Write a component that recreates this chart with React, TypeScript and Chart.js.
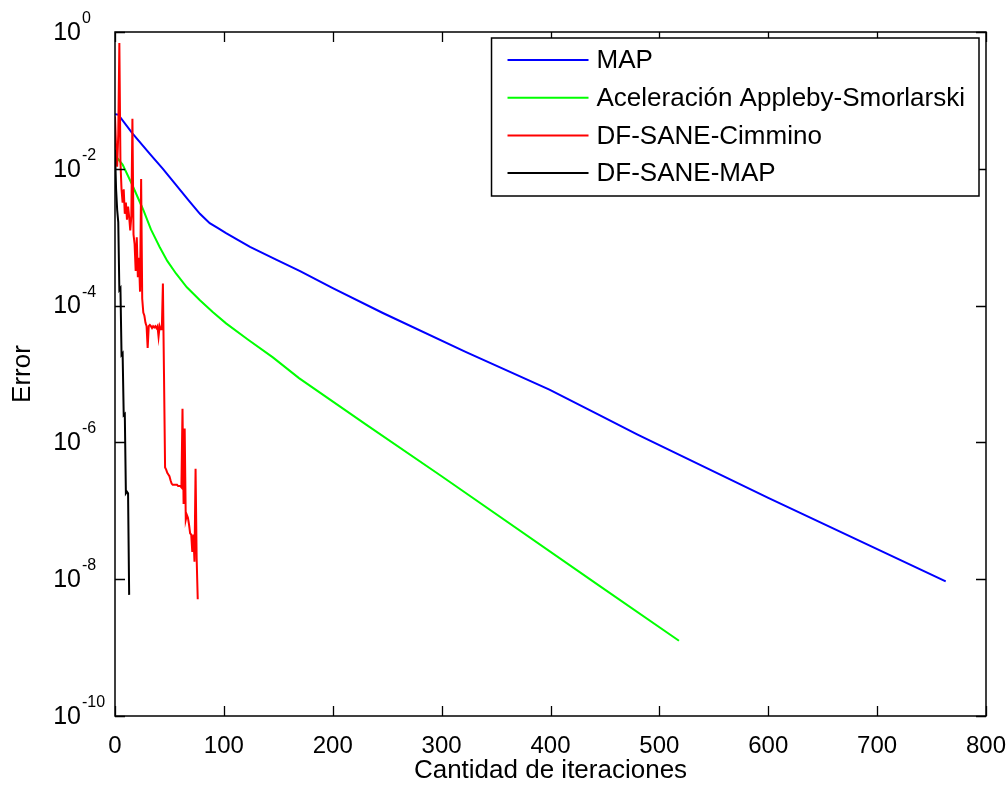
import React, { useEffect, useRef } from 'react';
import { Chart, registerables } from 'chart.js';

Chart.register(...registerables);

// ---- Data ----
const seriesLabels = ['MAP', 'Aceleración Appleby-Smorlarski', 'DF-SANE-Cimmino', 'DF-SANE-MAP'];
const seriesColors = ['#0000ff', '#00ff00', '#ff0000', '#000000'];

// MAP (blue)
const mapIter = [0, 3, 16, 32, 44, 56, 68, 78, 87, 95, 102, 112, 124, 148, 170, 200, 246, 322, 399, 445, 480, 600, 763];
const mapError = [6.3e-2, 6.2e-2, 3.3e-2, 1.65e-2, 1.0e-2, 5.8e-3, 3.4e-3, 2.2e-3, 1.6e-3, 1.35e-3, 1.15e-3, 9.3e-4, 7.2e-4, 4.7e-4, 3.2e-4, 1.8e-4, 7.8e-5, 2.1e-5, 5.9e-6, 2.5e-6, 1.3e-6, 1.55e-7, 9.3e-9];

// Aceleración Appleby-Smorlarski (green)
const accIter = [1, 7, 16, 26, 33, 41, 48, 56, 66, 78, 90, 102, 122, 145, 169, 231, 300, 445, 518];
const accError = [1.5e-2, 1.15e-2, 5.75e-3, 2.5e-3, 1.3e-3, 7.2e-4, 4.5e-4, 2.95e-4, 1.85e-4, 1.2e-4, 8.0e-5, 5.5e-5, 3.2e-5, 1.75e-5, 8.7e-6, 1.8e-6, 3.2e-7, 8.0e-9, 1.26e-9];

// DF-SANE-Cimmino (red), one value per iteration 0..76
const cimError = [
  5.8e-2, 2.0e-2, 1.07e-2, 3.2e-2, 6.9e-1, 1.26e-2, 5.0e-3, 3.2e-3, 5.0e-3, 2.2e-3,
  3.2e-3, 1.8e-3, 2.8e-3, 2.0e-3, 1.26e-3, 2.0e-3, 5.4e-2, 1.1e-3, 7.9e-4, 3.2e-4,
  1.0e-3, 2.6e-4, 5.0e-4, 1.6e-4, 7.1e-3, 1.26e-4, 7.9e-5, 7.1e-5, 5.6e-5, 5.0e-5,
  2.4e-5, 5.0e-5, 5.2e-5, 5.0e-5, 4.7e-5, 5.0e-5, 4.8e-5, 5.0e-5, 4.7e-5, 5.0e-5,
  3.5e-5, 5.0e-5, 4.5e-5, 4.5e-5, 2.1e-4, 1.0e-5, 4.3e-7, 4.0e-7, 3.6e-7, 3.4e-7,
  3.2e-7, 2.8e-7, 2.5e-7, 2.4e-7, 2.4e-7, 2.4e-7, 2.4e-7, 2.4e-7, 2.3e-7, 2.3e-7,
  2.3e-7, 2.2e-7, 3.1e-6, 1.26e-7, 1.6e-6, 7.4e-8, 8.7e-8, 7.9e-8, 6.3e-8, 4.7e-8,
  4.5e-8, 2.5e-8, 4.5e-8, 1.8e-8, 4.1e-7, 2.0e-8, 5.1e-9,
];

// DF-SANE-MAP (black), one value per iteration 0..13
const dfmapError = [
  1.9e-2, 5.0e-3, 2.5e-3, 1.66e-3, 1.7e-4, 1.8e-4, 1.9e-5, 2.0e-5, 2.5e-6, 2.6e-6,
  1.8e-7, 1.9e-7, 1.8e-7, 5.9e-9,
];

// Axis ticks
const xTicks = [0, 100, 200, 300, 400, 500, 600, 700, 800];
const yTicks = [1, 1e-2, 1e-4, 1e-6, 1e-8, 1e-10];
const yTickExponents = ['0', '-2', '-4', '-6', '-8', '-10'];

const FONT = "'Liberation Sans', Arial, Helvetica, sans-serif";

const matlabPlugin = {
  id: 'matlabDecor',
  afterDraw(chart: any) {
    const { ctx, chartArea: a, scales } = chart;
    const xs = scales.x;
    const ys = scales.y;
    ctx.save();
    // frame
    ctx.strokeStyle = '#000';
    ctx.lineWidth = 1.5;
    ctx.strokeRect(a.left, a.top, a.right - a.left, a.bottom - a.top);
    // inner tick marks
    ctx.lineWidth = 1.3;
    ctx.beginPath();
    xTicks.forEach((v) => {
      const px = Math.round(xs.getPixelForValue(v)) + 0.5;
      ctx.moveTo(px, a.bottom);
      ctx.lineTo(px, a.bottom - 10);
      ctx.moveTo(px, a.top);
      ctx.lineTo(px, a.top + 10);
    });
    yTicks.forEach((v) => {
      const py = Math.round(ys.getPixelForValue(v)) + 0.5;
      ctx.moveTo(a.left, py);
      ctx.lineTo(a.left + 10, py);
      ctx.moveTo(a.right, py);
      ctx.lineTo(a.right - 10, py);
    });
    ctx.stroke();

    // y tick labels with superscript exponents
    ctx.fillStyle = '#000';
    yTicks.forEach((v, i) => {
      const py = ys.getPixelForValue(v);
      ctx.font = `25px ${FONT}`;
      ctx.textAlign = 'right';
      ctx.textBaseline = 'middle';
      ctx.fillText('10', a.left - 34, py + 1);
      ctx.font = `16px ${FONT}`;
      ctx.textAlign = 'left';
      ctx.textBaseline = 'alphabetic';
      ctx.fillText(yTickExponents[i], a.left - 33, py - 9);
    });

    // legend box
    const datasets = chart.data.datasets;
    ctx.font = `26px ${FONT}`;
    let maxW = 0;
    datasets.forEach((d: any) => {
      maxW = Math.max(maxW, ctx.measureText(d.label).width);
    });
    const boxW = 105 + maxW + 14;
    const boxH = 158;
    const bx = a.right - 7 - boxW;
    const by = a.top + 6;
    ctx.fillStyle = '#fff';
    ctx.fillRect(bx, by, boxW, boxH);
    ctx.strokeStyle = '#000';
    ctx.lineWidth = 1.5;
    ctx.strokeRect(bx, by, boxW, boxH);
    datasets.forEach((d: any, i: number) => {
      const ry = by + 22 + i * 37.7;
      ctx.strokeStyle = d.borderColor;
      ctx.lineWidth = 2;
      ctx.beginPath();
      ctx.moveTo(bx + 16, ry);
      ctx.lineTo(bx + 97, ry);
      ctx.stroke();
      ctx.fillStyle = '#000';
      ctx.textAlign = 'left';
      ctx.textBaseline = 'middle';
      ctx.fillText(d.label, bx + 105, ry + 1);
    });
    ctx.restore();
  },
};

export default function App() {
  const canvasRef = useRef<HTMLCanvasElement | null>(null);

  useEffect(() => {
    const canvas = canvasRef.current;
    if (!canvas) return;
    const toPoints = (xsArr: number[], ysArr: number[]) => xsArr.map((x, i) => ({ x, y: ysArr[i] }));
    const indexPoints = (ysArr: number[]) => ysArr.map((y, i) => ({ x: i, y }));

    const chart = new Chart(canvas, {
      type: 'line',
      data: {
        datasets: [
          { label: seriesLabels[0], data: toPoints(mapIter, mapError), borderColor: seriesColors[0], order: 4 },
          { label: seriesLabels[1], data: toPoints(accIter, accError), borderColor: seriesColors[1], order: 3 },
          { label: seriesLabels[2], data: indexPoints(cimError), borderColor: seriesColors[2], order: 2 },
          { label: seriesLabels[3], data: indexPoints(dfmapError), borderColor: seriesColors[3], order: 1 },
        ].map((d) => ({ ...d, borderWidth: 2, pointRadius: 0, tension: 0, fill: false })),
      },
      options: {
        responsive: false,
        animation: false,
        devicePixelRatio: 1,
        layout: { padding: { left: 0, right: 22, top: 32, bottom: 0 } },
        plugins: {
          legend: { display: false },
          tooltip: { enabled: false },
        },
        scales: {
          x: {
            type: 'linear',
            min: 0,
            max: 800,
            afterBuildTicks: (scale: any) => {
              scale.ticks = xTicks.map((v) => ({ value: v }));
            },
            afterFit: (scale: any) => {
              scale.height = 73;
              scale.paddingLeft = 0;
              scale.paddingRight = 0;
            },
            grid: { display: false },
            border: { display: false },
            ticks: {
              color: '#000',
              padding: 8,
              maxRotation: 0,
              autoSkip: false,
              font: { size: 24, family: FONT },
            },
            title: {
              display: true,
              text: 'Cantidad de iteraciones',
              color: '#000',
              font: { size: 26, family: FONT },
              padding: { top: 0, bottom: 3 },
            },
          },
          y: {
            type: 'logarithmic',
            min: 1e-10,
            max: 1,
            afterBuildTicks: (scale: any) => {
              scale.ticks = yTicks.map((v) => ({ value: v }));
            },
            afterFit: (scale: any) => {
              scale.width = 115;
              scale.paddingTop = 0;
              scale.paddingBottom = 0;
            },
            grid: { display: false },
            border: { display: false },
            ticks: { display: false },
            title: {
              display: true,
              text: 'Error',
              color: '#000',
              font: { size: 26, family: FONT },
              padding: { top: 7, bottom: 0 },
            },
          },
        },
      },
      plugins: [matlabPlugin],
    } as any);

    return () => {
      chart.destroy();
    };
  }, []);

  return (
    <div style={{ position: 'absolute', left: 0, top: 0, width: 1008, height: 789, background: '#fff' }}>
      <canvas ref={canvasRef} width={1008} height={789} style={{ display: 'block', width: 1008, height: 789 }} />
    </div>
  );
}
